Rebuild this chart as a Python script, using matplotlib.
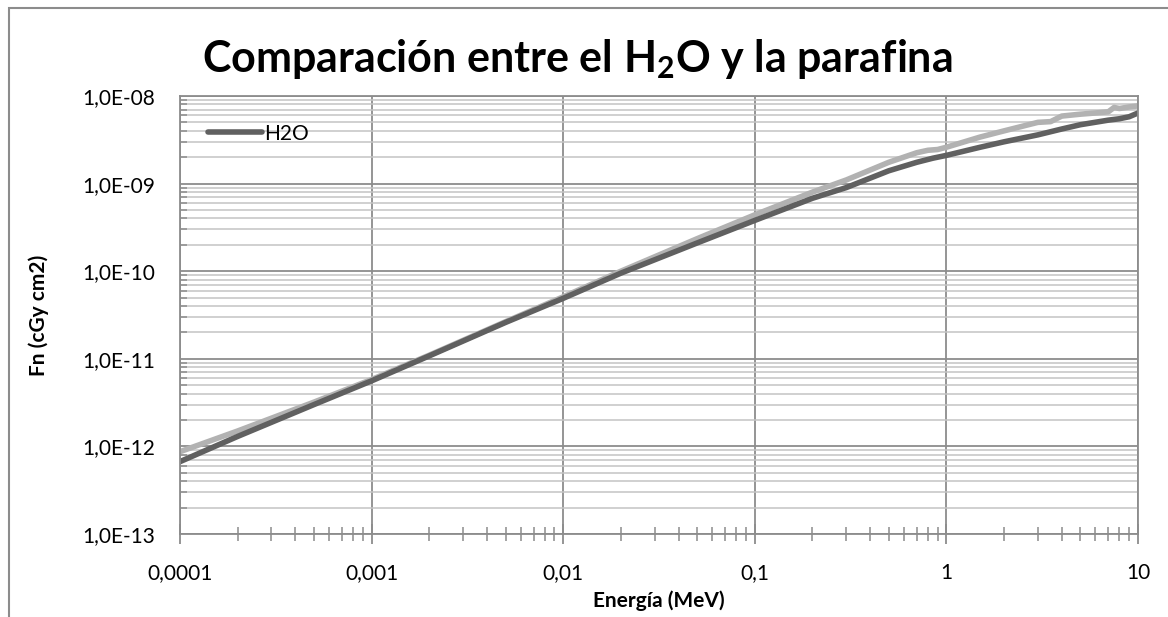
import matplotlib.pyplot as plt
from matplotlib.patches import Rectangle
from matplotlib.ticker import FixedLocator, LogLocator, NullFormatter

plt.rcParams['font.family'] = ['Lato', 'DejaVu Sans']
plt.rcParams['mathtext.fontset'] = 'custom'
plt.rcParams['mathtext.rm'] = 'Lato:bold'

# Energy (MeV) and Fn (cGy cm2) read for each medium
energia_h2o = [1e-4, 2e-4, 5e-4, 1e-3, 2e-3, 5e-3, 1e-2, 2e-2, 5e-2, 0.1, 0.2, 0.3,
               0.5, 0.7, 0.85, 1.0, 1.5, 2.0, 3.0, 4.0, 5.0, 7.0, 8.0, 9.0, 10.0]
fn_h2o = [6.7e-13, 1.3e-12, 3.0e-12, 5.6e-12, 1.08e-11, 2.6e-11, 4.9e-11, 9.5e-11,
          2.1e-10, 3.8e-10, 6.8e-10, 9.0e-10, 1.4e-9, 1.75e-9, 1.95e-9, 2.1e-9,
          2.6e-9, 3.0e-9, 3.6e-9, 4.2e-9, 4.7e-9, 5.3e-9, 5.5e-9, 5.8e-9, 6.4e-9]

energia_parafina = [1e-4, 2e-4, 5e-4, 1e-3, 2e-3, 5e-3, 1e-2, 2e-2, 5e-2, 0.1, 0.2,
                    0.3, 0.5, 0.7, 0.8, 0.9, 1.0, 1.5, 2.0, 3.0, 3.5, 4.0, 5.0, 6.0,
                    7.0, 7.5, 8.0, 9.0, 10.0]
fn_parafina = [8.7e-13, 1.5e-12, 3.2e-12, 5.8e-12, 1.1e-11, 2.65e-11, 5.1e-11, 1.0e-10,
               2.35e-10, 4.4e-10, 8.0e-10, 1.1e-9, 1.75e-9, 2.25e-9, 2.4e-9, 2.45e-9,
               2.6e-9, 3.4e-9, 4.0e-9, 5.0e-9, 5.1e-9, 5.9e-9, 6.2e-9, 6.4e-9, 6.6e-9,
               7.4e-9, 7.2e-9, 7.5e-9, 7.7e-9]

x_ticks = [1e-4, 1e-3, 1e-2, 1e-1, 1, 10]
x_labels = ['0,0001', '0,001', '0,01', '0,1', '1', '10']
y_ticks = [1e-13, 1e-12, 1e-11, 1e-10, 1e-9, 1e-8]
y_labels = ['1,0E-13', '1,0E-12', '1,0E-11', '1,0E-10', '1,0E-09', '1,0E-08']

fig = plt.figure(figsize=(11.68, 6.17), dpi=100)
# chart frame
fig.patches.append(Rectangle((9 / 1168, -0.1), 1.2, 1 - 8 / 617 + 0.1,
                             transform=fig.transFigure, fill=False,
                             edgecolor='#8c8c8c', linewidth=1.5))

ax = fig.add_axes([180 / 1168, 1 - 534 / 617, 958 / 1168, 438 / 617])

ax.plot(energia_parafina, fn_parafina, color='#b2b2b2', linewidth=4,
        solid_capstyle='round')
ax.plot(energia_h2o, fn_h2o, color='#606060', linewidth=4,
        solid_capstyle='round', label='H2O')

ax.set_xscale('log')
ax.set_yscale('log')
ax.set_xlim(1e-4, 10)
ax.set_ylim(1e-13, 1e-8)

ax.xaxis.set_major_locator(FixedLocator(x_ticks))
ax.set_xticklabels(x_labels)
ax.xaxis.set_minor_locator(LogLocator(base=10, subs=range(2, 10), numticks=20))
ax.xaxis.set_minor_formatter(NullFormatter())

ax.yaxis.set_major_locator(FixedLocator(y_ticks))
ax.set_yticklabels(y_labels)
ax.yaxis.set_minor_locator(LogLocator(base=10, subs=range(2, 10), numticks=20))
ax.yaxis.set_minor_formatter(NullFormatter())

ax.grid(True, which='major', axis='both', color='#8c8c8c', linewidth=1.3)
ax.grid(True, which='minor', axis='y', color='#c4c4c4', linewidth=1.1)
ax.set_axisbelow(True)

ax.tick_params(axis='x', which='major', direction='inout', length=14, width=1.3,
               color='#8c8c8c', labelsize=15, pad=14)
ax.tick_params(axis='x', which='minor', direction='inout', length=10, width=1.1,
               color='#8c8c8c')
ax.tick_params(axis='y', which='major', direction='out', length=0,
               labelsize=15, pad=18)
ax.tick_params(axis='y', which='minor', direction='in', length=5, width=1.1,
               color='#8c8c8c')

for s in ax.spines.values():
    s.set_color('#8c8c8c')
    s.set_linewidth(1.3)

ax.set_xlabel('Energía (MeV)', fontsize=15, fontweight='bold', labelpad=5)
ax.set_ylabel('Fn (cGy cm2)', fontsize=15, fontweight='bold', labelpad=24)

fig.text(0.494, 0.883, 'Comparación entre el H$_\\mathrm{2}$O y la parafina',
         ha='center', va='baseline', fontsize=31, fontweight='bold')

ax.legend(loc='upper left', bbox_to_anchor=(0.012, 0.975), frameon=False,
          fontsize=15, handlelength=2.6, handletextpad=0.1, borderaxespad=0.4)

fig.savefig('out.png', dpi=100)
